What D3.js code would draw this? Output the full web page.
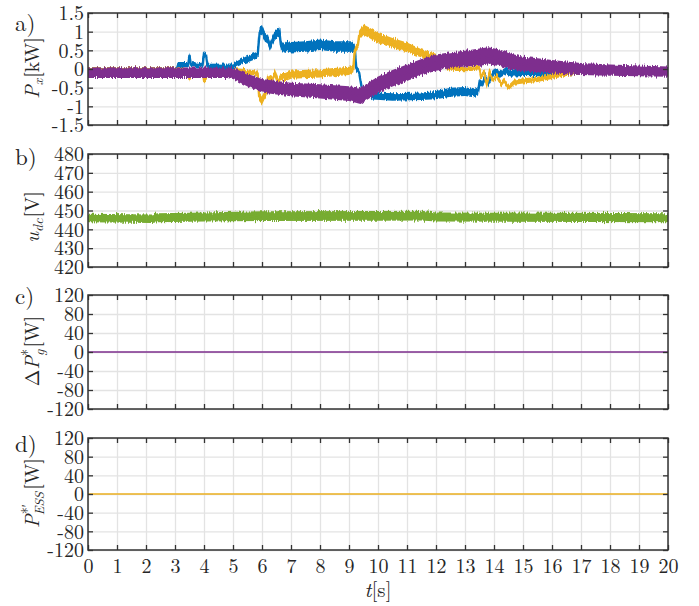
<!DOCTYPE html>
<html>
<head>
<meta charset="utf-8">
<script src="https://cdn.jsdelivr.net/npm/d3@7"></script>
<style>
  body { margin: 0; background: #fff; }
  svg { display: block; }
</style>
</head>
<body>
<svg id="chart" width="699" height="606"></svg>
<script>
// ---- tick values -------------------------------------------------------
const timeTicks = [0,1,2,3,4,5,6,7,8,9,10,11,12,13,14,15,16,17,18,19,20];
const pxTicks   = [-1.5,-1,-0.5,0,0.5,1,1.5];
const udcTicks  = [420,430,440,450,460,470,480];
const refTicks  = [-120,-80,-40,0,40,80,120];

// ---- panel a: converter powers [kW]; rows are [t (s), mean, noise half-band]
const p1 = [
  [0,0.0,0.05],[3.05,0.0,0.05],[3.1,0.12,0.07],[3.45,0.12,0.07],[3.5,0.38,0.06],[3.55,0.12,0.07],
  [3.95,0.1,0.06],[4.0,0.42,0.06],[4.07,0.35,0.06],[4.12,0.08,0.06],[5.0,0.08,0.07],[5.3,0.2,0.08],
  [5.6,0.3,0.09],[5.85,0.38,0.09],[5.92,1.0,0.13],[6.0,1.05,0.13],[6.1,0.85,0.12],[6.2,0.8,0.12],
  [6.27,0.6,0.12],[6.35,0.75,0.12],[6.45,0.9,0.12],[6.6,1.0,0.12],[6.65,0.65,0.12],[6.75,0.55,0.12],
  [6.85,0.62,0.14],[7.0,0.58,0.14],[7.5,0.6,0.14],[8.0,0.65,0.14],[8.5,0.6,0.14],[9.1,0.6,0.14],
  [9.2,0.55,0.12],[9.25,0.0,0.07],[9.35,-0.1,0.07],[9.45,-0.55,0.07],[9.6,-0.6,0.09],[9.8,-0.72,0.1],
  [10.5,-0.75,0.1],[11.5,-0.73,0.1],[12.0,-0.7,0.11],[12.5,-0.62,0.12],[13.0,-0.6,0.12],[13.3,-0.65,0.11],
  [13.45,-0.6,0.11],[13.5,-0.35,0.09],[13.6,-0.42,0.09],[13.7,-0.2,0.09],[13.8,-0.38,0.09],[14.0,-0.05,0.09],
  [14.2,-0.15,0.09],[14.4,-0.05,0.09],[14.6,-0.12,0.09],[15.0,-0.1,0.09],[16.0,-0.12,0.08],[17.0,-0.08,0.07],
  [20.0,-0.06,0.06]
];
const p2 = [
  [0,0.0,0.05],[3.3,0.0,0.05],[3.35,-0.05,0.06],[3.45,-0.05,0.06],[3.5,-0.28,0.06],[3.55,-0.05,0.06],
  [3.95,-0.05,0.06],[4.0,-0.3,0.06],[4.07,-0.25,0.06],[4.12,-0.03,0.06],[5.0,-0.03,0.06],[5.5,-0.08,0.07],
  [5.85,-0.12,0.07],[5.9,-0.75,0.11],[6.0,-0.85,0.11],[6.1,-0.7,0.09],[6.15,-0.65,0.09],[6.2,-0.25,0.09],
  [6.35,-0.3,0.09],[6.45,-0.1,0.09],[6.55,-0.35,0.09],[6.65,-0.2,0.09],[6.8,-0.22,0.11],[7.0,-0.15,0.11],
  [8.0,-0.12,0.11],[9.0,-0.05,0.11],[9.15,0.0,0.09],[9.2,0.5,0.09],[9.3,0.6,0.11],[9.35,0.9,0.13],
  [9.5,1.05,0.14],[9.7,0.97,0.14],[10.0,0.83,0.14],[10.5,0.7,0.13],[11.0,0.58,0.13],[11.5,0.42,0.11],
  [12.0,0.3,0.11],[12.3,0.08,0.07],[12.5,0.01,0.06],[13.0,0.0,0.06],[13.5,0.02,0.06],[13.55,-0.2,0.07],
  [13.65,-0.1,0.07],[13.75,-0.4,0.07],[13.85,-0.1,0.07],[13.95,-0.3,0.07],[14.1,-0.2,0.07],[14.25,-0.4,0.07],
  [14.35,-0.3,0.07],[14.5,-0.5,0.07],[14.7,-0.35,0.07],[15.0,-0.32,0.07],[15.5,-0.28,0.07],[16.0,-0.2,0.07],
  [16.5,-0.12,0.07],[17.0,-0.08,0.06],[20.0,-0.05,0.06]
];
const p3 = [
  [0,-0.1,0.14],[4.8,-0.1,0.14],[5.0,-0.12,0.15],[5.5,-0.3,0.17],[6.0,-0.45,0.18],[6.5,-0.5,0.18],
  [7.0,-0.55,0.18],[8.0,-0.6,0.19],[9.0,-0.66,0.2],[9.4,-0.72,0.22],[9.6,-0.62,0.22],[10.0,-0.42,0.22],
  [10.5,-0.25,0.22],[11.0,-0.1,0.22],[11.5,0.05,0.22],[12.0,0.17,0.22],[12.5,0.24,0.21],[13.0,0.28,0.21],
  [13.5,0.32,0.23],[13.8,0.35,0.23],[14.2,0.3,0.22],[14.5,0.22,0.21],[15.0,0.13,0.2],[15.5,0.1,0.19],
  [16.0,0.06,0.18],[17.0,0.0,0.16],[18.0,-0.03,0.15],[20.0,-0.07,0.14]
];

// ---- panel b: dc-link voltage [V]
const udc = [
  [0,446.0,2.3],[2.2,445.6,2.3],[2.4,446.2,2.4],[4.0,446.5,2.4],[6.0,447.0,2.6],[10.0,447.2,2.6],
  [11.5,447.3,2.6],[12.0,446.6,2.4],[20.0,446.2,2.4]
];

// ---- panels c, d: reference corrections [W]
const dPgRef   = [[0,0],[20,0]];
const pEssRef  = [[0,0],[20,0]];

// ---- layout --------------------------------------------------------------
const FONT = "Latin Modern Roman";
const INK = "#262626";
const svg = d3.select("#chart");
const X0 = 88, X1 = 668;
const x = d3.scaleLinear().domain([0, 20]).range([X0, X1]);

const colors = { blue: "#0072BD", yellow: "#EDB120", purple: "#7E2F8E", green: "#77AC30" };

const panels = [
  { id: "a", top: 13,  bottom: 125, domain: [-1.5, 1.5], ticks: pxTicks,  labelY: 31 },
  { id: "b", top: 154, bottom: 267, domain: [420, 480],  ticks: udcTicks, labelY: 165 },
  { id: "c", top: 295, bottom: 409, domain: [-120, 120], ticks: refTicks, labelY: 304 },
  { id: "d", top: 438, bottom: 550, domain: [-120, 120], ticks: refTicks, labelY: 452 }
];

// measurement-noise texture for the dense sampled traces
const defs = svg.append("defs");
const f = defs.append("filter").attr("id", "jitter")
  .attr("filterUnits", "userSpaceOnUse").attr("x", 0).attr("y", 0).attr("width", 699).attr("height", 606);
f.append("feTurbulence").attr("type", "fractalNoise").attr("baseFrequency", "0.9 0.05")
  .attr("numOctaves", 2).attr("seed", 4).attr("result", "n");
f.append("feColorMatrix").attr("in", "n").attr("type", "matrix")
  .attr("values", "1 0 0 0 0  0 0 0 0 0.5  0 0 0 0 0  0 0 0 0 1").attr("result", "m");
f.append("feDisplacementMap").attr("in", "SourceGraphic").attr("in2", "m")
  .attr("scale", 6).attr("xChannelSelector", "G").attr("yChannelSelector", "R");

panels.forEach(p => {
  p.y = d3.scaleLinear().domain(p.domain).range([p.bottom, p.top]);
  defs.append("clipPath").attr("id", "clip-" + p.id)
    .append("rect").attr("x", X0).attr("y", p.top).attr("width", X1 - X0).attr("height", p.bottom - p.top);
});

// grid
panels.forEach(p => {
  const g = svg.append("g").attr("class", "grid");
  g.append("g").attr("transform", `translate(${X0},0)`)
    .call(d3.axisLeft(p.y).tickValues(p.ticks).tickSize(-(X1 - X0)).tickFormat(""));
  g.append("g").attr("transform", `translate(0,${p.bottom})`)
    .call(d3.axisBottom(x).tickValues(timeTicks).tickSize(-(p.bottom - p.top)).tickFormat(""));
  g.selectAll(".domain").remove();
  g.selectAll("line").attr("stroke", "#e3e3e3").attr("stroke-width", 1.3);
});

// traces
function band(p, rows, color, noisy) {
  const g = svg.append("g").attr("clip-path", `url(#clip-${p.id})`)
    .append("g").attr("filter", noisy ? "url(#jitter)" : null);
  const area = d3.area().x(d => x(d[0])).y0(d => p.y(d[1] - d[2])).y1(d => p.y(d[1] + d[2]));
  const line = d3.line().x(d => x(d[0])).y(d => p.y(d[1]));
  g.append("path").attr("d", area(rows)).attr("fill", color);
  g.append("path").attr("d", line(rows)).attr("fill", "none").attr("stroke", color).attr("stroke-width", 2.4);
}
band(panels[0], p1, colors.blue, true);
band(panels[0], p2, colors.yellow, true);
band(panels[0], p3, colors.purple, true);
band(panels[1], udc, colors.green, true);

function flat(p, rows, color) {
  svg.append("g").attr("clip-path", `url(#clip-${p.id})`)
    .append("path").attr("d", d3.line().x(d => x(d[0])).y(d => p.y(d[1]))(rows))
    .attr("fill", "none").attr("stroke", color).attr("stroke-width", 1.5);
}
flat(panels[2], dPgRef, colors.purple);
flat(panels[3], pEssRef, colors.yellow);

// axes: box with inward ticks on all four sides
panels.forEach((p, i) => {
  const g = svg.append("g").attr("class", "axes");
  const left = g.append("g").attr("transform", `translate(${X0},0)`)
    .call(d3.axisLeft(p.y).tickValues(p.ticks).tickSizeInner(-5).tickSizeOuter(0).tickPadding(4)
      .tickFormat(d => String(d)));
  g.append("g").attr("transform", `translate(${X1},0)`)
    .call(d3.axisRight(p.y).tickValues(p.ticks).tickSizeInner(-5).tickSizeOuter(0).tickFormat(""));
  g.append("g").attr("transform", `translate(0,${p.top})`)
    .call(d3.axisTop(x).tickValues(timeTicks).tickSizeInner(-5).tickSizeOuter(0).tickFormat(""));
  const bottom = g.append("g").attr("transform", `translate(0,${p.bottom})`)
    .call(d3.axisBottom(x).tickValues(timeTicks).tickSizeInner(-5).tickSizeOuter(0).tickPadding(6)
      .tickFormat(i === panels.length - 1 ? (d => String(d)) : ""));
  g.selectAll(".domain").remove();
  g.selectAll("g").attr("font-family", FONT).attr("font-size", 20);
  g.selectAll("line").attr("stroke", "#333").attr("stroke-width", 1.3);
  g.selectAll("text").attr("font-family", FONT).attr("font-size", 20).attr("fill", INK);
  left.selectAll("text").attr("dy", "0.34em");
  bottom.selectAll("text").attr("dy", "0.85em");
  g.append("rect").attr("x", X0).attr("y", p.top).attr("width", X1 - X0).attr("height", p.bottom - p.top)
    .attr("fill", "none").attr("stroke", "#333").attr("stroke-width", 1.5);

  svg.append("text").attr("x", 15).attr("y", p.labelY).attr("font-size", 23)
    .attr("font-family", FONT).attr("fill", INK).text(p.id + ")");
});

// y-axis titles
function yTitle(cy, build) {
  const t = svg.append("text").attr("transform", `translate(39,${cy}) rotate(-90)`)
    .attr("text-anchor", "middle").attr("font-size", 20)
    .attr("font-family", FONT).attr("fill", INK);
  build(t);
}
yTitle(68, t => {
  t.append("tspan").attr("font-style", "italic").text("P");
  t.append("tspan").attr("font-style", "italic").attr("font-size", 14).attr("dy", 4).text("x");
  t.append("tspan").attr("dy", -4).attr("dx", 1).text("[kW]");
});
yTitle(217, t => {
  t.append("tspan").attr("font-style", "italic").text("u");
  t.append("tspan").attr("font-style", "italic").attr("font-size", 14).attr("dy", 4).text("dc");
  t.append("tspan").attr("dy", -4).attr("dx", 1).text("[V]");
});
yTitle(351, t => {
  t.append("tspan").text("Δ");
  t.append("tspan").attr("font-style", "italic").text("P");
  t.append("tspan").attr("font-size", 14).attr("dy", -7).text("*");
  t.append("tspan").attr("font-style", "italic").attr("font-size", 14).attr("dx", -7).attr("dy", 12).text("g");
  t.append("tspan").attr("dy", -5).attr("dx", 2).text("[W]");
});
yTitle(493, t => {
  t.append("tspan").attr("font-style", "italic").text("P");
  t.append("tspan").attr("font-size", 14).attr("dy", -7).text("*′");
  t.append("tspan").attr("font-style", "italic").attr("font-size", 13).attr("dx", -11).attr("dy", 12).text("ESS");
  t.append("tspan").attr("dy", -5).attr("dx", 2).text("[W]");
});

// x-axis title
const xt = svg.append("text").attr("x", (X0 + X1) / 2).attr("y", 597).attr("text-anchor", "middle")
  .attr("font-size", 21).attr("font-family", FONT).attr("fill", INK);
xt.append("tspan").attr("font-style", "italic").text("t");
xt.append("tspan").text("[s]");
</script>
</body>
</html>
